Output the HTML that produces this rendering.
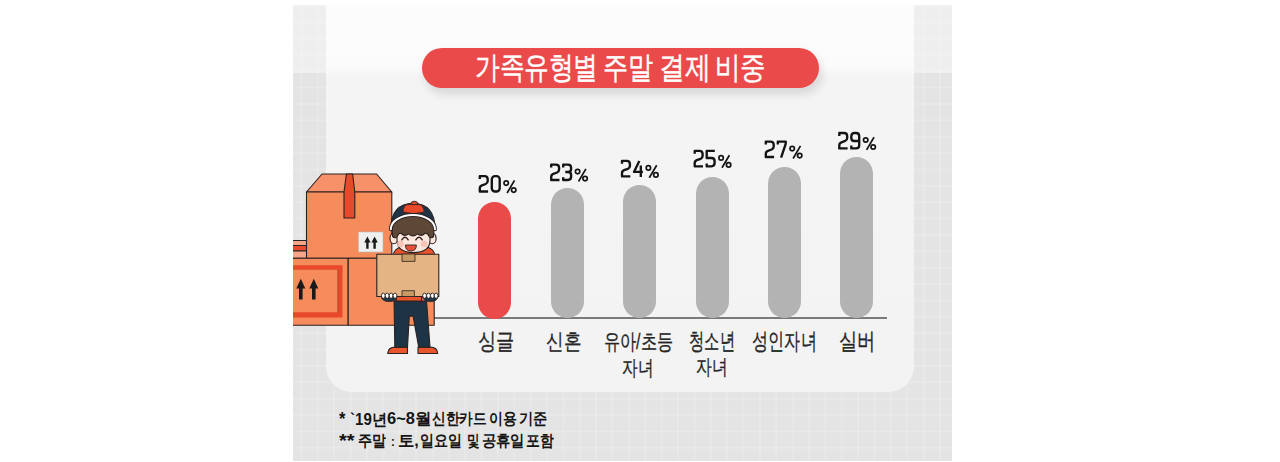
<!DOCTYPE html>
<html><head><meta charset="utf-8">
<style>
html,body{margin:0;padding:0;}
body{width:1280px;height:462px;background:#fff;position:relative;overflow:hidden;font-family:"Liberation Sans",sans-serif;}
.abs{position:absolute;}
#panel{left:293px;top:5px;width:659px;height:456px;background-color:#e4e4e4;overflow:hidden;
  background-image:
   linear-gradient(to bottom, rgba(255,255,255,0.4) 0, rgba(255,255,255,0.4) 68px, rgba(255,255,255,0) 68px),
   linear-gradient(to right, rgba(255,255,255,0.16) 2px, transparent 2px),
   linear-gradient(to bottom, rgba(255,255,255,0.16) 2px, transparent 2px);
  background-size:100% 100%, 16.39px 16.39px, 16.39px 16.39px;
  background-position:0 0, 7.45px 0, 0 16.1px;}
#card{left:326px;top:5px;width:588px;height:387px;border-radius:0 0 26px 26px;
  background:linear-gradient(to bottom,#fcfcfc 0,#fbfbfb 62px,#f4f4f4 72px,#f3f3f3 100%);}
#pill{left:422px;top:47.5px;width:397px;height:40.5px;border-radius:21px;background:#eb4a4a;
  box-shadow:3px 6px 10px rgba(0,0,0,0.12);}
.bar{position:absolute;width:33px;border-radius:16.5px;background:#b3b3b3;}
#axis{left:434px;top:317px;width:453px;height:2px;background:#7a7a7a;}
.t{position:absolute;line-height:1;white-space:nowrap;transform-origin:0 0;}
.n{font-size:15px;font-weight:bold;color:#151515;}
</style></head><body>
<div id="panel" class="abs"></div>
<div id="card" class="abs"></div>
<div id="pill" class="abs"></div>

<svg class="abs" style="left:0;top:0" width="1280" height="462"><g fill="none" stroke="#141414" stroke-width="2.35" stroke-linejoin="round" stroke-linecap="butt"><g transform="translate(478.5,174.8)"><g transform="translate(0,0)"><path d="M1.3,4.2 L1.3,1.3 L6,1.3 Q9.2,1.3 9.2,4.5 L9.2,6.3 Q9.2,8.4 7.2,9.2 L3.4,10.6 Q1.3,11.4 1.3,13.6 L1.3,16.7 L9.6,16.7"/></g><g transform="translate(12,0)"><rect x="1.3" y="1.3" width="7.9" height="15.4" rx="3.2"/></g><g transform="translate(24.6,5)"><g fill="none" stroke-width="1.7"><circle cx="3.1" cy="3.3" r="2.2"/><circle cx="10.6" cy="10.3" r="2.2"/><path d="M11.4,0.6 L4,13.2" stroke-linecap="butt"/></g></g></g><g transform="translate(549.9,163.3)"><g transform="translate(0,0)"><path d="M1.3,4.2 L1.3,1.3 L6,1.3 Q9.2,1.3 9.2,4.5 L9.2,6.3 Q9.2,8.4 7.2,9.2 L3.4,10.6 Q1.3,11.4 1.3,13.6 L1.3,16.7 L9.6,16.7"/></g><g transform="translate(12,0)"><path d="M1.3,4.2 L1.3,1.3 L6,1.3 Q9.2,1.3 9.2,4.5 L9.2,5.8 Q9.2,8.7 6.3,8.7 L3.4,8.7 M6.3,8.7 Q9.2,8.7 9.2,11.6 L9.2,13.5 Q9.2,16.7 6,16.7 L1.3,16.7 L1.3,13.9"/></g><g transform="translate(24.6,5)"><g fill="none" stroke-width="1.7"><circle cx="3.1" cy="3.3" r="2.2"/><circle cx="10.6" cy="10.3" r="2.2"/><path d="M11.4,0.6 L4,13.2" stroke-linecap="butt"/></g></g></g><g transform="translate(620.7,159.6)"><g transform="translate(0,0)"><path d="M1.3,4.2 L1.3,1.3 L6,1.3 Q9.2,1.3 9.2,4.5 L9.2,6.3 Q9.2,8.4 7.2,9.2 L3.4,10.6 Q1.3,11.4 1.3,13.6 L1.3,16.7 L9.6,16.7"/></g><g transform="translate(12,0)"><path d="M6.6,1.3 L1.3,12.3 L10.2,12.3 M8.1,5.8 L8.1,17.4"/></g><g transform="translate(24.6,5)"><g fill="none" stroke-width="1.7"><circle cx="3.1" cy="3.3" r="2.2"/><circle cx="10.6" cy="10.3" r="2.2"/><path d="M11.4,0.6 L4,13.2" stroke-linecap="butt"/></g></g></g><g transform="translate(693.4,149.6)"><g transform="translate(0,0)"><path d="M1.3,4.2 L1.3,1.3 L6,1.3 Q9.2,1.3 9.2,4.5 L9.2,6.3 Q9.2,8.4 7.2,9.2 L3.4,10.6 Q1.3,11.4 1.3,13.6 L1.3,16.7 L9.6,16.7"/></g><g transform="translate(12,0)"><path d="M9.4,1.3 L1.3,1.3 L1.3,8.4 L6,8.4 Q9.2,8.4 9.2,11.6 L9.2,13.5 Q9.2,16.7 6,16.7 L1.3,16.7 L1.3,13.9"/></g><g transform="translate(24.6,5)"><g fill="none" stroke-width="1.7"><circle cx="3.1" cy="3.3" r="2.2"/><circle cx="10.6" cy="10.3" r="2.2"/><path d="M11.4,0.6 L4,13.2" stroke-linecap="butt"/></g></g></g><g transform="translate(764.5,140.3)"><g transform="translate(0,0)"><path d="M1.3,4.2 L1.3,1.3 L6,1.3 Q9.2,1.3 9.2,4.5 L9.2,6.3 Q9.2,8.4 7.2,9.2 L3.4,10.6 Q1.3,11.4 1.3,13.6 L1.3,16.7 L9.6,16.7"/></g><g transform="translate(12,0)"><path d="M1.3,4.2 L1.3,1.3 L9.2,1.3 L9.2,3.6 L4.6,17.4"/></g><g transform="translate(24.6,5)"><g fill="none" stroke-width="1.7"><circle cx="3.1" cy="3.3" r="2.2"/><circle cx="10.6" cy="10.3" r="2.2"/><path d="M11.4,0.6 L4,13.2" stroke-linecap="butt"/></g></g></g><g transform="translate(838,131.7)"><g transform="translate(0,0)"><path d="M1.3,4.2 L1.3,1.3 L6,1.3 Q9.2,1.3 9.2,4.5 L9.2,6.3 Q9.2,8.4 7.2,9.2 L3.4,10.6 Q1.3,11.4 1.3,13.6 L1.3,16.7 L9.6,16.7"/></g><g transform="translate(12,0)"><path d="M9.2,9.3 L4.3,9.3 Q1.3,9.3 1.3,6.3 L1.3,4.5 Q1.3,1.3 4.5,1.3 L6,1.3 Q9.2,1.3 9.2,4.5 L9.2,13.5 Q9.2,16.7 6,16.7 L1.3,16.7 L1.3,13.9"/></g><g transform="translate(24.6,5)"><g fill="none" stroke-width="1.7"><circle cx="3.1" cy="3.3" r="2.2"/><circle cx="10.6" cy="10.3" r="2.2"/><path d="M11.4,0.6 L4,13.2" stroke-linecap="butt"/></g></g></g></g></svg>
<div id="axis" class="abs"></div>
<div class="bar" style="left:478px;top:202px;height:117px;background:#eb4a4a"></div>
<div class="bar" style="left:551px;top:188px;height:130px"></div>
<div class="bar" style="left:623px;top:185px;height:133px"></div>
<div class="bar" style="left:696px;top:177px;height:141px"></div>
<div class="bar" style="left:768px;top:167px;height:151px"></div>
<div class="bar" style="left:840px;top:157px;height:161px"></div>




<div class="t" style="left:475.0px;top:52.8px;font-size:28px;color:#fff;-webkit-text-stroke:0.4px #fff;transform:scale(0.878,1.1)">가족유형별</div>
<div class="t" style="left:603.0px;top:52.8px;font-size:28px;color:#fff;-webkit-text-stroke:0.4px #fff;transform:scale(0.889,1.1)">주말</div>
<div class="t" style="left:659.1px;top:52.8px;font-size:28px;color:#fff;-webkit-text-stroke:0.4px #fff;transform:scale(0.918,1.1)">결제</div>
<div class="t" style="left:715.4px;top:52.8px;font-size:28px;color:#fff;-webkit-text-stroke:0.4px #fff;transform:scale(0.908,1.1)">비중</div>
<div class="t" style="left:477.7px;top:330.0px;font-size:22px;font-weight:normal;color:#262626;-webkit-text-stroke:0.3px #262626;transform:scale(0.838,1.063)">싱글</div>
<div class="t" style="left:545.7px;top:331.1px;font-size:22px;font-weight:normal;color:#262626;-webkit-text-stroke:0.3px #262626;transform:scale(0.807,1.01)">신혼</div>
<div class="t" style="left:604.1px;top:330.8px;font-size:22px;font-weight:normal;color:#262626;-webkit-text-stroke:0.3px #262626;transform:scale(0.729,0.989)">유아/초등</div>
<div class="t" style="left:622.4px;top:357.5px;font-size:22px;font-weight:normal;color:#262626;-webkit-text-stroke:0.3px #262626;transform:scale(0.715,0.958)">자녀</div>
<div class="t" style="left:689.1px;top:329.9px;font-size:22px;font-weight:normal;color:#262626;-webkit-text-stroke:0.3px #262626;transform:scale(0.697,1.053)">청소년</div>
<div class="t" style="left:696.4px;top:357.3px;font-size:22px;font-weight:normal;color:#262626;-webkit-text-stroke:0.3px #262626;transform:scale(0.723,0.963)">자녀</div>
<div class="t" style="left:751.6px;top:329.9px;font-size:22px;font-weight:normal;color:#262626;-webkit-text-stroke:0.3px #262626;transform:scale(0.735,1.053)">성인자녀</div>
<div class="t" style="left:839.0px;top:329.9px;font-size:22px;font-weight:normal;color:#262626;-webkit-text-stroke:0.3px #262626;transform:scale(0.838,1.053)">실버</div>
<div class="t n" style="left:339.1px;top:408.9px;transform:scale(1.1,1.22)">*</div>
<div class="t n" style="left:349.8px;top:410.5px;transform:scale(1.003,1.057)">`19년</div>
<div class="t n" style="left:387.3px;top:410.2px;transform:scale(1.097,1.06)">6~8월</div>
<div class="t n" style="left:431.8px;top:410.2px;transform:scale(0.905,1.06)">신한카드</div>
<div class="t n" style="left:489.4px;top:410.2px;transform:scale(0.925,1.06)">이용</div>
<div class="t n" style="left:519.4px;top:410.2px;transform:scale(0.946,1.06)">기준</div>
<div class="t n" style="left:339.1px;top:431.3px;transform:scale(1.336,1.22)">**</div>
<div class="t n" style="left:358.0px;top:432.4px;transform:scale(0.931,1.054)">주말</div>
<div class="t n" style="left:390.7px;top:433.6px;transform:scale(0.767,0.913)">:</div>
<div class="t n" style="left:398.0px;top:432.4px;transform:scale(1.076,1.054)">토,</div>
<div class="t n" style="left:419.6px;top:432.4px;transform:scale(0.921,1.054)">일요일</div>
<div class="t n" style="left:467.1px;top:432.4px;transform:scale(0.823,1.054)">및</div>
<div class="t n" style="left:481.8px;top:432.4px;transform:scale(0.943,1.054)">공휴일</div>
<div class="t n" style="left:525.5px;top:432.4px;transform:scale(0.914,1.054)">포함</div>
<svg class="abs" style="left:293px;top:165px" width="160" height="200" viewBox="293 165 160 200">
<g stroke="#2a2220" stroke-width="1.1" stroke-linejoin="round">
 <!-- behind strip -->
 <rect x="286" y="240.5" width="21" height="17.8" fill="#f5a688"/>
 <rect x="286" y="245.5" width="21" height="5.4" fill="#e9492b"/>
 <!-- upper box lid -->
 <path d="M322,174 L376.6,174 L391.8,192 L306.5,192 Z" fill="#f6916a"/>
 <!-- upper box front -->
 <rect x="306.5" y="192" width="85.3" height="66.3" fill="#f68b5c"/>
 <!-- tape -->
 <path d="M346.4,174 L352.6,174 L354.8,192 L354.8,218 L344,218 L344,192 Z" fill="#e9492b"/>
 <!-- label -->
 <rect x="358.5" y="232" width="24.5" height="20" fill="#efefef" stroke="#bbb" stroke-width="0.6"/>
 <!-- lower boxes -->
 <rect x="286" y="258.3" width="62.2" height="67" fill="#f68b5c"/>
 <rect x="348.2" y="258.3" width="86" height="67" fill="#f68b5c"/>
</g>
<!-- red frame -->
<path d="M286,265.2 H342.5 V317.5 H286 Z M286,269.7 V312.3 H337.8 V269.7 Z" fill="#e9492b" fill-rule="evenodd"/>
<line x1="337.8" y1="269.7" x2="337.8" y2="312.3" stroke="#8a3520" stroke-width="0.6"/>
<!-- big arrows -->
<g fill="#1a1a1a">
 <path d="M300.8,278.8 L305.3,288.6 L302.6,288.6 L302.6,299.4 L299,299.4 L299,288.6 L296.3,288.6 Z"/>
 <path d="M313.8,278.8 L318.3,288.6 L315.6,288.6 L315.6,299.4 L312,299.4 L312,288.6 L309.3,288.6 Z"/>
 <!-- small arrows -->
 <path d="M367.4,236.6 L370.6,242.4 L368.6,242.4 L368.6,248.8 L366.2,248.8 L366.2,242.4 L364.2,242.4 Z"/>
 <path d="M374.6,236.6 L377.8,242.4 L375.8,242.4 L375.8,248.8 L373.4,248.8 L373.4,242.4 L371.4,242.4 Z"/>
</g>
<!-- character -->
<g stroke="#2a2220" stroke-width="1.1" stroke-linejoin="round" stroke-linecap="round">
 <!-- shoes -->
 <path d="M387.7,353.5 Q388,347.1 395.5,347.1 L407.5,347.1 L407.5,353.5 Z" fill="#e9552c"/>
 <path d="M418,353.5 L418,347.1 L430,347.1 Q437.4,347.1 437.7,353.5 Z" fill="#e9552c"/>
 <!-- pants -->
 <path d="M394.1,301 L426.5,301 L430,347.1 L418.7,347.1 L413.1,316.1 L409.3,316.1 L407.5,347.1 L394.8,347.1 Z" fill="#1d3346"/>
 <!-- shirt bits -->
 <rect x="396.2" y="295.5" width="25.4" height="5.6" fill="#e9552c"/>
 <!-- shoulders -->
 <path d="M393,256 Q394,248 402,247 L426,247 Q434,248 435,256 Z" fill="#e9552c"/>
 <!-- ears -->
 <ellipse cx="393.9" cy="238.4" rx="3.9" ry="5.3" fill="#fde6dc"/>
 <ellipse cx="432.2" cy="238.4" rx="3.9" ry="5.3" fill="#fde6dc"/>
 <!-- face -->
 <path d="M397,226 L430,226 L430,240 Q430,252.6 413.5,252.6 Q397,252.6 397,240 Z" fill="#fde6dc"/>
 <!-- hair -->
 <path d="M392.2,229.5 Q392.5,215.5 413,215.5 Q433.5,215.5 434,229.5 L433.6,236.5 Q431.2,239 429,236.3 Q427.5,232.8 425,233.4 Q421.2,237.2 417.4,233.8 Q413,238 408.6,233.8 Q404.6,237.2 401,233.4 Q398.6,232.8 397.4,236.3 Q395,239 392.6,236.5 Z" fill="#5d4837"/>
 <!-- cap dome -->
 <path d="M390.8,229.3 C390.6,212 399,203.2 413,203.2 C427,203.2 435.2,212 435,229.3 A22.1,14.3 0 0 0 390.8,229.3 Z" fill="#1e3448"/>
 <path d="M405.2,205 Q413,202.6 421.6,205 Q424.6,209 424.2,212.2 Q413.5,215.2 403,212.2 Q402.4,209 405.2,205 Z" fill="#e9492b" stroke-width="0.9"/>
 <path d="M410.6,204.2 Q410.6,201.2 414.3,201.2 Q418,201.2 418,204.2 Z" fill="#e9492b" stroke-width="0.9"/>
 <!-- brim white -->
 <path d="M390.8,229.3 A22.1,14.3 0 0 1 435,229.3" fill="none" stroke="#2a2220" stroke-width="3.8"/>
 <path d="M390.8,229.3 A22.1,14.3 0 0 1 435,229.3" fill="none" stroke="#ffffff" stroke-width="2"/>
</g>
<!-- cheeks -->
<circle cx="400.4" cy="244" r="3.3" fill="#f8c0b4" opacity="0.9"/>
<circle cx="424.2" cy="244" r="3.3" fill="#f8c0b4" opacity="0.9"/>
<!-- eyes -->
<path d="M401.8,239.8 Q405,234.8 408.2,239.8" fill="none" stroke="#2a2220" stroke-width="1.4" stroke-linecap="round"/>
<path d="M415.8,239.8 Q419,234.8 422.2,239.8" fill="none" stroke="#2a2220" stroke-width="1.4" stroke-linecap="round"/>
<!-- mouth -->
<path d="M405.4,245 L416.4,245 Q416.4,251 410.9,251 Q405.4,251 405.4,245 Z" fill="#e9503a" stroke="#2a2220" stroke-width="0.9"/>
<g stroke="#2a2220" stroke-width="1.1" stroke-linejoin="round">
 <!-- held box -->
 <rect x="376.8" y="254.2" width="62" height="42.3" fill="#e5b484"/>
 <rect x="402" y="254" width="13" height="7.4" fill="#c99b64" stroke-width="0.8"/>
 <rect x="402" y="290.7" width="12.4" height="5.8" fill="#c99b64" stroke-width="0.8"/>
 <!-- gloves -->
 <path d="M381.2,296 Q381.6,301.6 389.2,301.6 Q396.8,301.6 397.2,296 Z" fill="#1d3346" stroke-width="0.8"/>
 <path d="M422.5,296 Q422.9,301.6 430.3,301.6 Q437.7,301.6 438.1,296 Z" fill="#1d3346" stroke-width="0.8"/>
 <ellipse cx="383.3" cy="295.7" rx="1.9" ry="2.6" fill="#ffffff" stroke-width="0.9"/>
 <ellipse cx="387.2" cy="295.7" rx="1.9" ry="2.6" fill="#ffffff" stroke-width="0.9"/>
 <ellipse cx="391.1" cy="295.7" rx="1.9" ry="2.6" fill="#ffffff" stroke-width="0.9"/>
 <ellipse cx="395.0" cy="295.7" rx="1.9" ry="2.6" fill="#ffffff" stroke-width="0.9"/>
 <ellipse cx="424.6" cy="295.7" rx="1.9" ry="2.6" fill="#ffffff" stroke-width="0.9"/>
 <ellipse cx="428.5" cy="295.7" rx="1.9" ry="2.6" fill="#ffffff" stroke-width="0.9"/>
 <ellipse cx="432.4" cy="295.7" rx="1.9" ry="2.6" fill="#ffffff" stroke-width="0.9"/>
 <ellipse cx="436.1" cy="295.7" rx="1.9" ry="2.6" fill="#ffffff" stroke-width="0.9"/>
</g>
</svg>
</body></html>
